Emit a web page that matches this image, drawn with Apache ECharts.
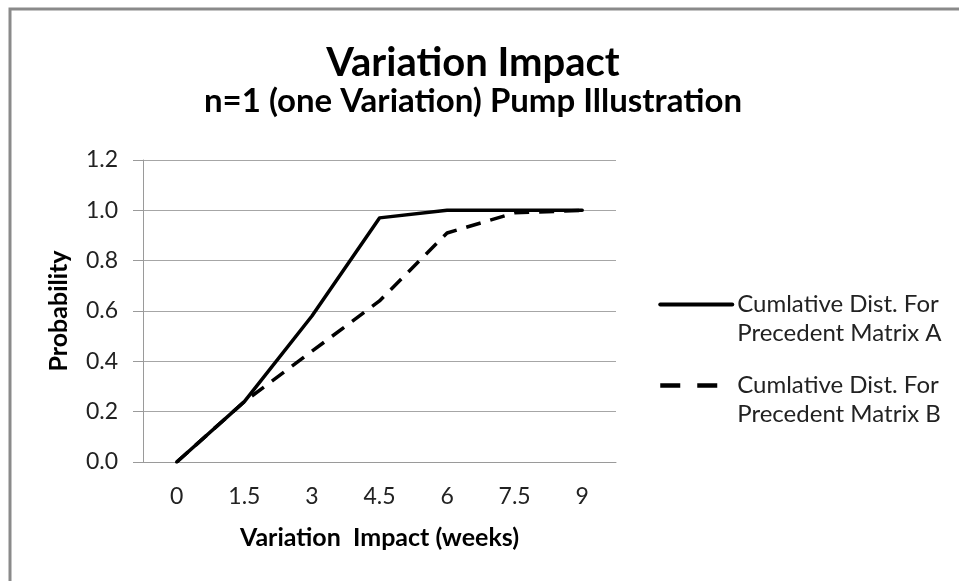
<!DOCTYPE html>
<html>
<head>
<meta charset="utf-8">
<script src="https://cdn.jsdelivr.net/npm/echarts@6/dist/echarts.min.js"></script>
<style>html,body{margin:0;padding:0;background:#fff;}#chart{width:959px;height:581px;}</style>
</head>
<body>
<div id="chart"></div>
<script>
const categories = ['0', '1.5', '3', '4.5', '6', '7.5', '9'];
const seriesA = [0, 0.24, 0.58, 0.97, 1.0, 1.0, 1.0];
const seriesB = [0, 0.24, 0.44, 0.64, 0.91, 0.99, 1.0];
const nameA = 'Cumlative Dist. For\nPrecedent Matrix A';
const nameB = 'Cumlative Dist. For\nPrecedent Matrix B';
const titleText = 'Variation Impact';
const subtitleText = 'n=1 (one Variation) Pump Illustration';
const xAxisName = 'Variation  Impact (weeks)';
const yAxisName = 'Probability';

const FONT = 'Lato';
const chart = echarts.init(document.getElementById('chart'));
chart.setOption({
  backgroundColor: '#fff',
  animation: false,
  textStyle: { fontFamily: FONT },
  title: [
    { text: titleText, left: 473, top: 43, textAlign: 'center', padding: 0,
      textStyle: { fontFamily: FONT, fontSize: 40, fontWeight: 'bold', color: '#000' } },
    { text: subtitleText, left: 473, top: 85, textAlign: 'center', padding: 0,
      textStyle: { fontFamily: FONT, fontSize: 33, fontWeight: 'bold', color: '#000' } }
  ],
  graphic: [
    { type: 'rect', silent: true, z: -1,
      shape: { x: 10, y: 9, width: 1200, height: 1200 },
      style: { fill: null, stroke: '#8a8a8a', lineWidth: 3 } }
  ],
  grid: { left: 143, right: 343, top: 160, bottom: 119, containLabel: false },
  legend: {
    orient: 'vertical',
    left: 658,
    top: 261,
    padding: 0,
    itemGap: -6,
    itemWidth: 72,
    itemHeight: 14,
    formatter: n => '\n' + n,
    itemStyle: { color: 'rgba(0,0,0,0)', borderWidth: 0, opacity: 0 },
    data: [
      { name: nameA, lineStyle: { type: 'solid', width: 4 } },
      { name: nameB, lineStyle: { type: [20, 17], width: 4.5 } }
    ],
    textStyle: { fontFamily: FONT, fontSize: 24, color: '#222', lineHeight: 29 }
  },
  xAxis: {
    type: 'category',
    data: categories,
    boundaryGap: true,
    name: xAxisName,
    nameLocation: 'middle',
    nameGap: 63,
    nameTextStyle: { fontFamily: FONT, fontSize: 25, fontWeight: 'bold', color: '#000' },
    axisLine: { lineStyle: { color: '#9a9a9a', width: 1 } },
    axisTick: { show: false },
    axisLabel: { interval: 0, margin: 23, fontFamily: FONT, fontSize: 23, color: '#222' },
    splitLine: { show: false }
  },
  yAxis: {
    type: 'value',
    min: 0, max: 1.2, interval: 0.2,
    name: yAxisName,
    nameLocation: 'middle',
    nameGap: 72,
    nameTextStyle: { fontFamily: FONT, fontSize: 25, fontWeight: 'bold', color: '#000' },
    axisLine: { show: true, lineStyle: { color: '#9a9a9a', width: 1 } },
    axisTick: { show: true, length: 10, lineStyle: { color: '#9a9a9a' } },
    axisLabel: { margin: 25, fontFamily: FONT, fontSize: 23, color: '#222',
      formatter: v => v.toFixed(1) },
    splitLine: { show: true, lineStyle: { color: '#a6a6a6', width: 1 } }
  },
  series: [
    { name: nameA, type: 'line', data: seriesA, symbol: 'none', showSymbol: false,
      lineStyle: { color: '#000', width: 3.5, cap: 'round', join: 'round' }, itemStyle: { color: '#000' } },
    { name: nameB, type: 'line', data: seriesB, symbol: 'none', showSymbol: false,
      lineStyle: { color: '#000', width: 3.5, type: [15, 10] }, itemStyle: { color: '#000' } }
  ]
});
</script>
</body>
</html>
